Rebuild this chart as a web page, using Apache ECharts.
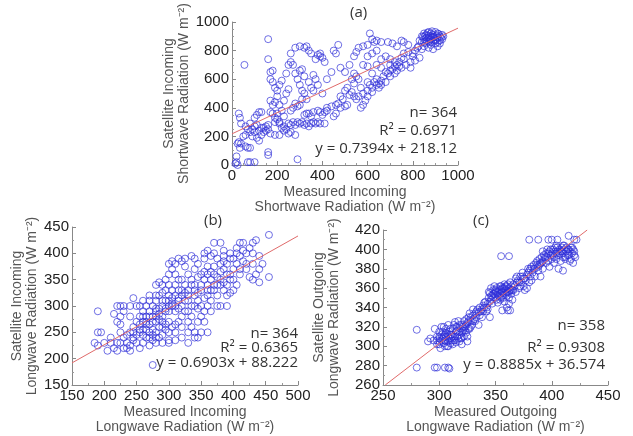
<!DOCTYPE html>
<html><head><meta charset="utf-8">
<script src="https://cdn.jsdelivr.net/npm/echarts@6/dist/echarts.min.js"></script>
<style>html,body{margin:0;padding:0;background:#fff}#c{width:633px;height:436px}</style>
</head><body><div id="c"></div>
<script>
// Panel (a): Incoming shortwave (measured, satellite)
const pointsA = [
[30,360],[35,330],[40,290],[25,150],[30,160],[40,150],[35,120],[20,60],[20,20],[15,10],[25,0],[70,20],[80,20],[100,20],[60,130],[70,120],[80,120],[55,700],[50,200],[60,210],[80,230],[90,250],[100,270],[110,280],[70,250],[60,270],[80,290],[100,330],[110,350],[120,370],[130,370],[90,200],[110,190],[120,170],[130,210],[140,230],[150,240],[140,260],[150,270],[160,280],[160,250],[130,260],[120,240],[100,230],
[160,880],[160,740],[170,650],[180,660],[170,600],[180,580],[190,540],[200,520],[210,560],[220,590],[200,480],[190,440],[170,450],[180,420],[210,420],[230,450],[240,500],[250,530],[220,380],[230,340],[200,320],[190,300],[210,290],[230,270],[250,290],[260,280],[270,300],[280,280],[290,300],[300,290],[310,300],[320,280],[330,290],[340,270],[350,290],[360,300],[370,290],[380,300],[390,290],[410,290],[170,370],[180,360],[190,330],[200,360],[210,300],[220,260],[230,240],[240,250],[250,220],[260,230],[170,220],[190,210],[210,210],[280,210],[290,40],[160,90],[160,70],[240,640],[250,700],[260,720],[270,700],[260,780],[280,820],[300,830],[320,820],[330,830],[340,800],[350,780],[280,640],[290,600],[300,560],[310,520],[320,500],[330,460],[310,460],[300,420],[290,410],[280,430],[270,400],[260,380],[300,660],[310,670],[320,620],[340,580],[350,540],[360,520],[370,740],[380,770],[390,760],[400,750],[390,780],[410,720],[360,630],[370,600],[380,560],[400,500],[420,600],[440,650],[450,800],[460,780],[470,840],[420,380],[410,370],[400,350],[390,370],[380,380],[360,370],[340,360],[350,340],[330,360],[320,350],[420,400],[440,410],[460,420],[470,430],[480,480],[490,460],[500,520],[510,540],[520,490],[530,510],[540,480],[550,460],[560,480],[570,400],[580,420],[590,450],[600,480],[500,410],[510,420],[480,400],[460,360],[450,340],
[480,680],[500,650],[520,700],[540,760],[550,790],[560,820],[580,830],[600,840],[610,920],[620,880],[630,860],[640,870],[660,860],[690,860],[710,850],[730,830],[760,860],[780,840],[750,870],[600,580],[610,560],[620,540],[630,580],[640,600],[650,570],[660,590],[670,620],[680,650],[690,640],[700,660],[710,670],[720,690],[730,700],[740,720],[750,750],[760,780],[720,640],[700,620],[680,580],[660,560],[650,540],[640,560],[620,510],[600,520],[580,500],[570,540],[560,600],[550,620],[540,640],[530,600],[540,570],[620,640],[640,700],[660,740],[680,760],[700,740],[620,780],[640,800],[600,760],[580,700],[600,690],[660,680],[700,700],[730,660],[750,680],[770,700],[790,720],[800,760],[810,800],[820,820],[800,780],[780,790],[760,740],[740,690],[720,720],[790,680],[810,730],[830,750],
[840,900],[850,920],[860,910],[870,930],[880,920],[890,910],[900,930],[910,920],[920,900],[930,910],[850,880],[860,870],[870,890],[880,880],[890,870],[900,880],[910,890],[920,870],[930,880],[840,860],[860,850],[880,840],[900,850],[920,850],[850,830],[870,820],[890,810],[910,830],[880,900],[895,895],[905,905],[870,905],[860,890],[850,860],[830,870],[825,830],[840,810],[880,860],[900,870],[910,860],[925,890],[935,900],[870,860],[890,895],[915,915],[865,925],[885,935],[845,895],[855,905],[875,875]
];
const fitA = [[0,218],[1000,957]];
// Panel (b): Incoming longwave
const pointsB = [
[190,290],[190,250],[185,230],[190,225],[195,250],[205,215],[210,240],[215,220],[215,285],[220,270],[220,300],[225,300],[230,300],[225,280],[225,250],[230,240],[220,215],[225,230],[235,230],[240,225],[235,220],[240,215],[245,235],[250,230],[245,240],[240,280],[245,315],[255,250],[260,255],[265,240],[270,225],[270,240],[275,235],[275,245],[280,250],[285,240],[280,230],[290,245],[295,255],[300,250],[305,260],[290,260],[300,230],[310,235],[275,188],[260,280],[265,300],[270,310],[275,300],[280,310],[285,320],[290,325],[285,345],[295,330],[300,340],[300,320],[305,315],[300,290],[295,290],[285,295],[280,280],[275,270],[270,280],[265,265],[260,270],[255,280],[290,280],[310,300],[315,310],[320,320],[310,340],[315,350],[305,370],[305,385],[310,380],[315,390],[320,385],[325,390],[320,330],[325,340],[330,330],[330,310],[335,300],[320,300],[325,290],[320,280],[315,270],[330,270],[335,260],[330,250],[320,260],[310,250],[340,250],[345,240],[350,280],[355,290],[350,300],[345,310],[340,320],[340,340],[335,350],[340,370],[345,380],[335,395],[340,390],[350,360],[355,350],[360,340],[360,320],[365,330],[370,340],[365,350],[370,360],[375,355],[380,350],[385,370],[390,380],[380,380],[375,390],[370,400],[365,395],[360,375],[355,390],[380,300],[375,320],[385,330],[390,340],[395,350],[390,320],[400,330],[405,340],[395,360],[400,370],[405,380],[400,390],[410,370],[410,395],[415,385],[420,380],[420,400],[415,420],[410,420],[425,410],[430,420],[435,425],[430,400],[440,395],[445,380],[440,370],[435,360],[430,350],[425,355],[440,345],[455,435],[455,355],[380,420],[385,405],[370,420],[360,405],[355,400],[390,300],[345,270],[350,330],[360,300],[365,310],[375,300],[355,315],[345,325],[330,290],[310,290],[300,300],[295,310],[290,300],[305,300],[315,295],[300,270],[290,270],[285,275],[280,295],[270,290],[265,280],[260,290],[255,300],[250,270],[245,260],[255,265],[280,320],[290,340],[300,360],[310,360],[320,350],[330,360],[325,375],[340,300],[345,295],[360,360],[370,375],[380,365],[395,390],[405,400],[385,385],[375,340],[385,345],[395,325],[365,290],[355,270],[335,280],[325,310],[315,330],[305,330],[295,350],[300,380],[280,340],[270,320],[260,310],[250,300],[240,300],[230,290],[225,265],[240,250],[235,245],[250,245],[260,245],[265,255],[275,255],[285,260],[295,265],[310,265],[320,240],[330,230],[300,235],[290,230],[280,240],[270,250],[260,230],[255,220],[230,220],[220,230],[210,230],[200,230],[280,290],[290,310],[300,310],[310,320],[330,320],[340,330],[350,340],[360,330],[370,330],[380,340],[390,360],[400,350],[410,360],[420,370],[430,380],[405,410],[415,405],[395,400],[385,395],[365,365],[355,365],[345,355],[335,340],[325,325],[315,315],[305,305],[295,295],[285,285],[275,280],[265,270],[255,255],[245,250],[350,250],[340,240],[360,250],[270,265],[280,270]
];
const fitB = [[150,192],[500,433]];
// Panel (c): Outgoing longwave
const pointsC = [
[280,317],[280,278],[296,278],[298,278],[305,278],[308,278],[309,277],[355,393],[362,393],[380,410],[388,410],[397,410],[400,410],[415,414],[405,410],[422,410],[420,410],[410,378],[390,372],[356,337],[361,337],[363,337],[362,344],[345,330],[325,305],
[290,305],[292,308],[295,306],[298,310],[300,305],[300,310],[300,315],[302,320],[303,308],[304,303],[305,306],[305,312],[306,318],[307,300],[308,305],[308,310],[309,315],[310,308],[310,303],[311,312],[312,318],[313,306],[313,322],[314,310],[315,315],[315,304],[316,320],[317,326],[318,312],[318,305],[319,318],[320,322],[320,309],[321,316],[322,326],[323,320],[324,328],[325,324],[326,318],[326,330],[327,334],[328,326],[329,322],[330,332],[330,338],[331,328],[332,334],[333,330],[334,338],[335,335],[336,340],[337,336],[338,338],[339,342],[340,340],[340,345],[342,336],[343,344],[344,350],[345,355],[346,348],[347,352],[348,358],[349,362],[350,356],[350,350],[351,360],[352,353],[353,358],[354,362],[355,356],[355,350],[356,360],[357,355],[358,364],[359,358],[360,352],[360,362],[361,356],[362,360],[363,366],[364,354],[365,358],[366,364],[367,362],[368,370],[369,366],[370,368],[371,360],[372,372],[373,366],[374,376],[375,370],[376,358],[377,368],[378,374],[379,380],[380,378],[381,372],[382,382],[383,376],[384,384],[385,380],[386,386],[387,388],[388,382],[389,390],[390,386],[391,392],[392,388],[393,394],[394,390],[395,396],[396,392],[397,388],[398,398],[399,394],[400,396],[400,390],[401,400],[402,392],[403,398],[404,396],[405,402],[406,394],[407,400],[408,398],[409,402],[410,396],[411,400],[412,392],[413,398],[414,400],[415,394],[416,398],[417,390],[418,396],[419,386],[420,398],[421,392],
[296,318],[298,302],[301,298],[304,320],[306,310],[308,322],[310,318],[312,302],[314,325],[316,310],[318,315],[320,302],[322,310],[324,314],[325,310],[327,318],[300,308],[302,312],[306,305],[309,308],[311,306],[303,315],[305,300],[307,313],[319,308],[321,320],[315,320],[317,308],[323,316],[328,330],[332,326],[335,322],[338,330],[342,340],[344,356],[346,360],[348,350],[352,345],[354,348],[356,352],[358,346],[360,340],[362,350],[365,348],[368,356],[372,362],[375,362],[378,360],[380,366],[382,368],[385,372],[388,378],[392,380],[395,386],[398,382],[402,386],[404,390],[406,380],[408,388],[410,392],[412,390],[414,394],[416,388],[418,402],[420,394],[392,398],[396,400],[404,404],[410,404],
[298,306],[300,302],[302,306],[304,310],[306,314],[308,300],[310,312],[312,310],[314,306],[316,316],[318,322],[320,314],[322,318],[324,322],[326,326],[328,320],[330,326],[333,336],[336,332],[339,336],[341,346],[343,338],[345,346],[347,344],[349,354],[351,348],[353,352],[355,362],[357,350],[359,354],[361,364],[363,358],[364,362],[366,358],[369,372],[371,366],[374,372],[376,370],[379,376],[381,380],[384,380],[387,384],[389,384],[391,386],[394,392],[397,396],[399,400],[401,394],[403,402],[405,398],[407,396],[409,398],[411,404],[413,402],[415,400],[417,402],[419,400],[355,358],[356,356],[357,360],[358,360],[359,362],[360,356],[352,356],[354,354],[350,358],[348,354],[346,352],[362,356],[364,358]
];
const fitC = [[252,260],[431.5,420]];

const panelLabels = ['(a)', '(b)', '(c)'];
const statsA = ['n= 364', 'R² = 0.6971', 'y = 0.7394x + 218.12'];
const statsB = ['n= 364', 'R² = 0.6365', 'y = 0.6903x + 88.222'];
const statsC = ['n= 358', 'R² = 0.9308', 'y = 0.8885x + 36.574'];
const xNames = ['Measured Incoming\nShortwave Radiation (W m⁻²)', 'Measured Incoming\nLongwave Radiation (W m⁻²)', 'Measured Outgoing\nLongwave Radiation (W m⁻²)'];
const yNames = ['Satellite Incoming\nShortwave Radiation (W m⁻²)', 'Satellite Incoming\nLongwave Radiation (W m⁻²)', 'Satellite Outgoing\nLongwave Radiation (W m⁻²)'];

const chart = echarts.init(document.getElementById('c'), null, {renderer: 'canvas'});
const FONT = "'Liberation Sans', Arial, sans-serif";
const SFONT = "15px 'Open Sans', sans-serif";
function axis(gi, min, max, interval, name, gap, isY, minorSplit) {
  return {
    type: 'value', gridIndex: gi, min: min, max: max, interval: interval,
    name: name, nameLocation: 'middle', nameGap: gap, nameRotate: isY ? 90 : 0,
    nameTextStyle: {color: '#555', fontSize: 14, fontFamily: FONT, lineHeight: 15},
    axisLine: {show: true, lineStyle: {color: '#888', width: 1}},
    axisTick: {show: true, inside: true, length: 4, lineStyle: {color: '#888'}},
    minorTick: {show: true, splitNumber: minorSplit, length: 2, lineStyle: {color: '#999'}},
    splitLine: {show: false},
    axisLabel: {color: '#222', fontSize: 15, fontFamily: FONT, margin: 3, hideOverlap: false,
      formatter: v => String(v)}
  };
}
const grids = [
  {left: 232, top: 22, width: 226, height: 143},
  {left: 72, top: 227, width: 226, height: 159},
  {left: 383, top: 230, width: 225, height: 156}
];
const scatterStyle = {color: 'rgba(255,255,255,0)', borderColor: 'rgba(45,45,215,0.85)', borderWidth: 1};
function scatter(i, data) {
  return {type: 'scatter', xAxisIndex: i, yAxisIndex: i, data: data, symbol: 'circle', symbolSize: 7, itemStyle: scatterStyle, silent: true, z: 2};
}
function fit(i, data) {
  return {type: 'line', xAxisIndex: i, yAxisIndex: i, data: data, symbol: 'none', lineStyle: {color: '#e06a6a', width: 1}, silent: true, z: 3};
}
function statText(lines, right, ys) {
  return lines.map((t, k) => ({
    type: 'text', right: 633 - right, top: ys[k] - 10, z: 10,
    style: {text: t, font: SFONT, fill: '#333', textAlign: 'right'}
  }));
}
const graphics = [
  {type: 'text', left: 350, top: 5, style: {text: panelLabels[0], font: SFONT, fill: '#333'}},
  {type: 'text', left: 204, top: 213, style: {text: panelLabels[1], font: SFONT, fill: '#333'}},
  {type: 'text', left: 473, top: 213, style: {text: panelLabels[2], font: SFONT, fill: '#333'}}
].concat(statText(statsA, 457, [115, 133, 151]))
 .concat(statText(statsB, 298, [336, 350, 365]))
 .concat(statText(statsC, 605, [328, 350, 367]));

chart.setOption({
  animation: false,
  backgroundColor: '#fff',
  grid: grids,
  xAxis: [
    axis(0, 0, 1000, 200, xNames[0], 20, false, 4),
    axis(1, 150, 500, 50, xNames[1], 20, false, 2),
    axis(2, 250, 450, 50, xNames[2], 20, false, 2)
  ],
  yAxis: [
    axis(0, 0, 1000, 200, yNames[0], 35, true, 4),
    axis(1, 150, 450, 50, yNames[1], 32, true, 2),
    axis(2, 260, 420, 20, yNames[2], 41, true, 2)
  ],
  series: [scatter(0, pointsA), fit(0, fitA), scatter(1, pointsB), fit(1, fitB), scatter(2, pointsC), fit(2, fitC)],
  graphic: graphics
});
</script></body></html>
